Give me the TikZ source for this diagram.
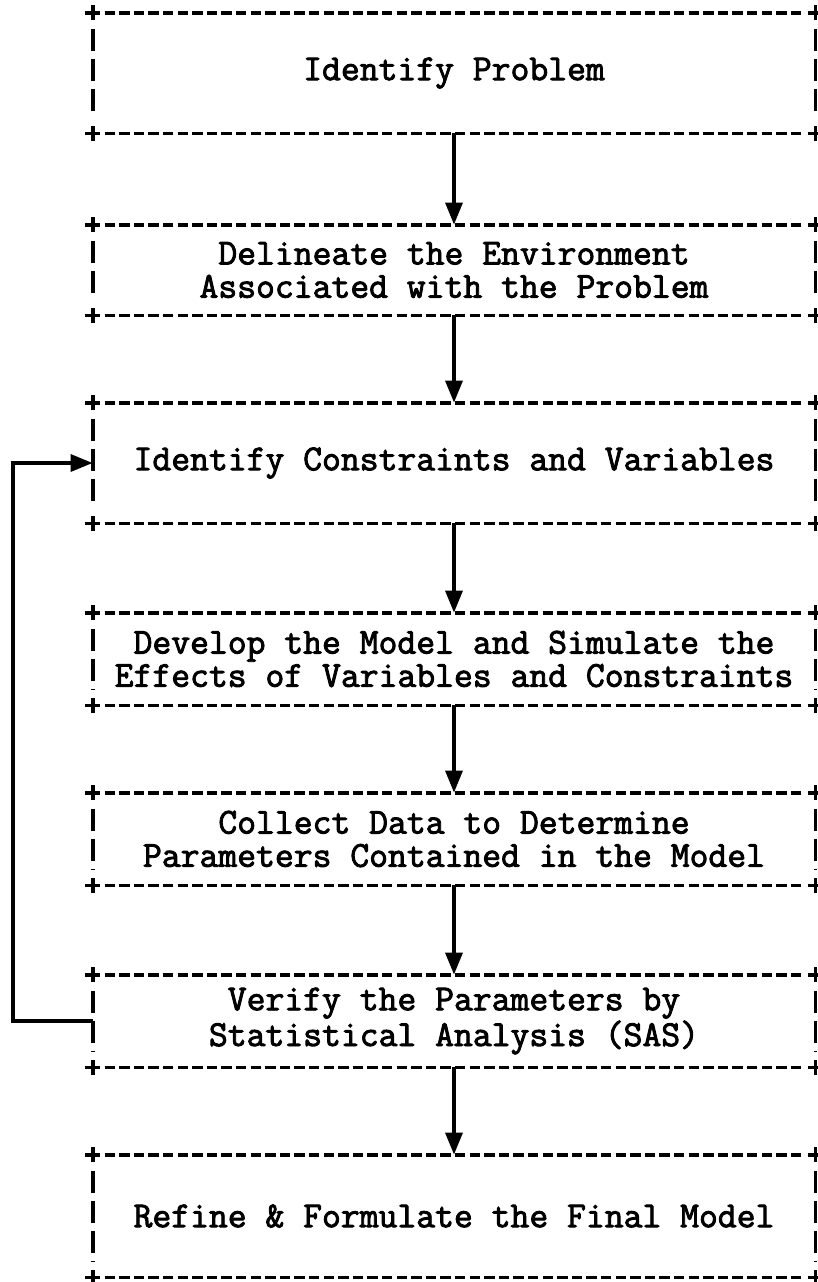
\documentclass[tikz,border=0pt]{standalone}
\usepackage{fontspec}
\newfontfamily\typew{Latin Modern Mono}[FakeBold=2.4]
\usetikzlibrary{arrows.meta}
\tikzset{
  boxnode/.style={rectangle, inner sep=0pt, minimum width=361pt, align=center,
    font=\typew\fontsize{18.3}{16.6}\selectfont},
  hdash/.style={line width=1.9pt, dash pattern=on 5.2pt off 2.1pt},
  vdash/.style={line width=1.9pt, dash pattern=on 11pt off 4pt},
  crossmark/.style={line width=1.9pt},
  arr/.style={line width=1.7pt, -{Triangle[length=11pt,width=8.5pt]}},
}
\newcommand\mydbox[1]{%
  \draw[hdash] ([xshift=6pt]#1.north west) -- ([xshift=-6pt]#1.north east);
  \draw[hdash] ([xshift=6pt]#1.south west) -- ([xshift=-6pt]#1.south east);
  \draw[vdash] ([yshift=-8pt]#1.north west) -- ([yshift=8pt]#1.south west);
  \draw[vdash] ([yshift=-8pt]#1.north east) -- ([yshift=8pt]#1.south east);
  \foreach \c in {north west,north east,south west,south east}{
    \draw[crossmark] ([xshift=-3.8pt]#1.\c) -- ([xshift=3.8pt]#1.\c);
    \draw[crossmark] ([yshift=-3.8pt]#1.\c) -- ([yshift=3.8pt]#1.\c);
  }%
}
\begin{document}
\begin{tikzpicture}[x=0.5pt,y=-0.5pt]
\useasboundingbox (0,0) rectangle (818,1282);
\node[boxnode, minimum height=60pt] (b1) at (454,73) {Identify Problem};
\node[boxnode, minimum height=45pt] (b2) at (454,270) {Delineate the Environment\\Associated with the Problem};
\node[boxnode, minimum height=60pt] (b3) at (454,463) {Identify Constraints and Variables};
\node[boxnode, minimum height=46pt] (b4) at (454,659) {Develop the Model and Simulate the\\Effects of Variables and Constraints};
\node[boxnode, minimum height=46pt] (b5) at (454,839) {Collect Data to Determine\\Parameters Contained in the Model};
\node[boxnode, minimum height=46pt] (b6) at (454,1021) {Verify the Parameters by\\Statistical Analysis (SAS)};
\node[boxnode, minimum height=61pt] (b7) at (454,1216) {Refine \& Formulate the Final Model};
\mydbox{b1}\mydbox{b2}\mydbox{b3}\mydbox{b4}\mydbox{b5}\mydbox{b6}\mydbox{b7}
\draw[arr] (b1.south) -- (b2.north);
\draw[arr] (b2.south) -- (b3.north);
\draw[arr] (b3.south) -- (b4.north);
\draw[arr] (b4.south) -- (b5.north);
\draw[arr] (b5.south) -- (b6.north);
\draw[arr] (b6.south) -- (b7.north);
\coordinate (fb) at (13,0);
\draw[arr] (b6.west) -- (b6.west -| fb) -- (b3.west -| fb) -- (b3.west);
\end{tikzpicture}
\end{document}
